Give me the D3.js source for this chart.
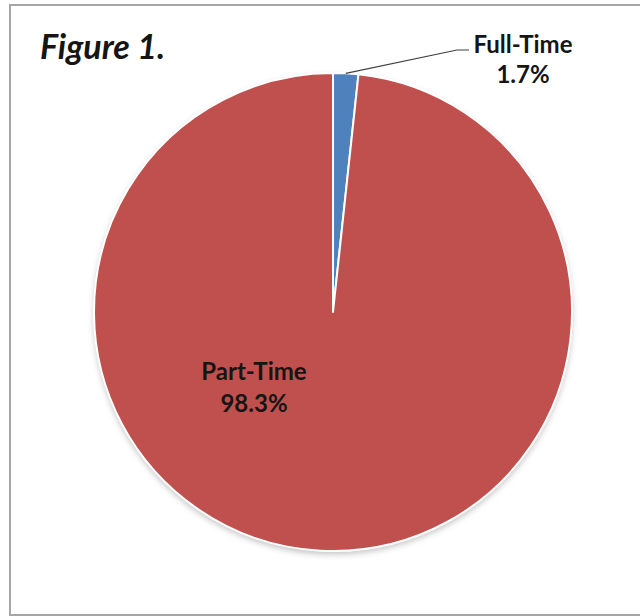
<!DOCTYPE html>
<html>
<head>
<meta charset="utf-8">
<script src="https://cdn.jsdelivr.net/npm/d3@7"></script>
<style>
  html, body { margin: 0; padding: 0; background: #fff; }
  svg { display: block; }
  text { font-family: Lato, "Open Sans", sans-serif; font-weight: bold; fill: #151515; }
</style>
</head>
<body>
<svg id="chart" width="640" height="616"></svg>
<script>
const categories = ["Full-Time", "Part-Time"];
const values = [1.7, 98.3];
const labels = ["1.7%", "98.3%"];
const colors = ["#4F81BD", "#C0504D"];
const title = "Figure 1.";

const svg = d3.select("#chart");
const cx = 333, cy = 312, R = 239;

// frame
svg.append("rect")
  .attr("x", 10).attr("y", 5)
  .attr("width", 660).attr("height", 610)
  .attr("fill", "#fff")
  .attr("stroke", "#a6a6a6").attr("stroke-width", 2);

const defs = svg.append("defs");
const f = defs.append("filter").attr("id", "shadow")
  .attr("x", "-10%").attr("y", "-10%").attr("width", "120%").attr("height", "120%");
f.append("feDropShadow").attr("dx", 0).attr("dy", 3).attr("stdDeviation", 3)
  .attr("flood-color", "#000").attr("flood-opacity", 0.25);

svg.append("text")
  .attr("x", 40).attr("y", 59)
  .style("font-style", "italic")
  .style("font-size", "34px")
  .text(title);

const data = categories.map((c, i) => ({ cat: c, value: values[i], label: labels[i], color: colors[i] }));

const pie = d3.pie().sort(null).value(d => d.value);
const arcs = pie(data);
const arc = d3.arc().innerRadius(0).outerRadius(R);

const g = svg.append("g").attr("transform", `translate(${cx},${cy})`);

g.append("circle").attr("r", R).attr("fill", "#C0504D").attr("filter", "url(#shadow)");

g.selectAll("path.slice")
  .data(arcs)
  .join("path")
  .attr("class", "slice")
  .attr("d", arc)
  .attr("fill", d => d.data.color)
  .attr("stroke", "#fff")
  .attr("stroke-width", 2)
  .attr("stroke-linejoin", "round");

// Full-Time label with leader line
const ft = arcs[0];
const mid = (ft.startAngle + ft.endAngle) / 2;
const px = Math.sin(mid) * R, py = -Math.cos(mid) * R;
g.append("polyline")
  .attr("points", [[px, py], [457 - cx, 50 - cy], [469 - cx, 50 - cy]].map(p => p.join(",")).join(" "))
  .attr("fill", "none")
  .attr("stroke", "#404040")
  .attr("stroke-width", 1.2);

svg.append("text")
  .attr("x", 523).attr("y", 53)
  .attr("text-anchor", "middle")
  .style("font-size", "24px")
  .text(ft.data.cat);
svg.append("text")
  .attr("x", 523).attr("y", 83)
  .attr("text-anchor", "middle")
  .style("font-size", "24px")
  .text(ft.data.label);

// Part-Time label inside
const pt = arcs[1];
svg.append("text")
  .attr("x", 254).attr("y", 380)
  .attr("text-anchor", "middle")
  .style("font-size", "24px")
  .text(pt.data.cat);
svg.append("text")
  .attr("x", 254).attr("y", 412)
  .attr("text-anchor", "middle")
  .style("font-size", "24px")
  .text(pt.data.label);
</script>
</body>
</html>
